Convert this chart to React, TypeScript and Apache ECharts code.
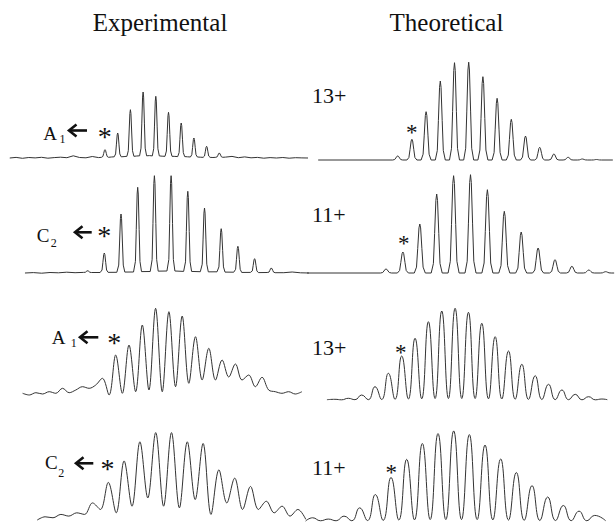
import React, { useEffect, useRef } from "react";
import * as echarts from "echarts";

// ---------- DATA ----------
const columnTitles = ["Experimental", "Theoretical"];
const chargeLabels = ["13+", "11+", "13+", "11+"];
const ionLabels = [
  { ion: "A", sub: "1" },
  { ion: "C", sub: "2" },
  { ion: "A", sub: "1" },
  { ion: "C", sub: "2" },
];

// Row 1 – experimental A1 13+ (narrow isotope peaks, first at isotope index 0)
const expA1Peaks = [8.3, 25, 48.3, 66, 61.7, 45.7, 35, 20, 11.7, 5];
const expA1Noise = [
  0, 0.6, -0.3, 0.5, 0.1, 0.7, -0.2, 0.4, 0.8, 0.3, 2.2, 0.5, 0.2, 1.5, 0.4, 0,
  1.0, 0, 1.4, 0, 2.0, 0, 2.4, 0, 1.8, 0, 1.6, 0, 1.2, 0, 0.8, 0, 0.5, 0, 0.9,
  1.6, 0.3, 1.1, 0.2, 0.6, -0.2, 0.4, 0, 0.5, -0.2, 0.3, 0.1, 0,
];
// Row 1 – theoretical 13+
const theoA1Peaks = [4, 20.7, 48.3, 79, 97.3, 97.8, 83.3, 61.7, 40.7, 24, 12.7, 6, 2.7, 1, 0.5];
// Row 2 – experimental C2 11+ (first peak at index -1)
const expC2Peaks = [2.3, 20, 59, 85.7, 97.3, 97.3, 81.7, 65, 44.3, 26.7, 14.3, 5];
const expC2Noise = [
  0, 0.4, -0.2, 0.5, 0.2, 0.8, 0.3, 0.6, 0.4, 0.5, 0.8, 0.7, 1.2, 1.0, 1.8, 1.5,
  2.2, 2.0, 2.0, 1.6, 1.5, 1.3, 1.0, 1.2, 0.6, 0.8, 0.3, 0.6, 0.2, 0.5, 0.1, 0.3,
  1.0, 0.2, 0,
];
// Row 2 – theoretical 11+
const theoC2Peaks = [4, 21, 49, 79, 97.3, 98.3, 83.3, 61.7, 41, 25, 13.3, 6.7, 3, 1.3];
// Row 3 – experimental A1 13+, low resolution (profile every half isotope step from -7)
const expA1Broad = [
  1.7, 0, 2.3, 1, 3.3, 1.7, 6.7, 2.3, 5, 8.3, 6.7, 10, 16.7, 0, 40, 1.7, 50, 3.3,
  70, 5, 86.7, 3.3, 83.3, 8.3, 79, 11.7, 58.3, 15, 46.7, 15, 35, 18, 31, 15, 20,
  8.3, 17.7, 5, 3.3, 1.7, 3.3, 1, 3.3,
];
// Row 3 – theoretical 13+, low resolution (apex heights from index -5, valleys between)
const theoA1BroadPeaks = [
  0.7, 1.7, 5, 13.3, 26.7, 44, 61.7, 78.3, 89, 91.7, 87.7, 76.7, 63.3, 49, 35.7,
  24.3, 15.7, 10, 5.7, 3.3, 1,
];
const theoA1BroadValleys = [
  0.2, 0.3, 0.3, 0.5, 0.7, 1, 1.2, 1.5, 1.5, 1.5, 1.5, 1.2, 1, 0.8, 0.6, 0.5, 0.4,
  0.3, 0.2, 0.2,
];
// Row 4 – experimental C2 11+, low resolution (profile every half step from -4.5)
const expC2Broad = [
  1, 4.3, 3.3, 6.7, 5, 8.3, 6.7, 18.3, 11.7, 39, 8.3, 60.7, 15, 80, 23.3, 89.3,
  15, 89.3, 13.3, 80, 21.7, 78.3, 6.7, 51.7, 18.3, 43.3, 11.7, 35, 11.7, 20, 8.3,
  15, 5, 11.7, 1.7,
];
// Row 4 – theoretical 11+, low resolution (apex heights from index -5)
const theoC2BroadPeaks = [
  3.3, 2, 5, 13.3, 26.7, 44, 62.3, 78.3, 88.3, 91, 87.3, 76.7, 62.7, 49, 35.7,
  24.3, 15.7, 10, 5.7,
];
const theoC2BroadValleys = [
  0.3, 0.3, 0.3, 0.5, 0.7, 1, 1.2, 1.5, 1.5, 1.5, 1.5, 1.2, 1, 0.8, 0.6, 0.5, 0.4,
  0.3,
];

// ---------- LAYOUT ----------
// x0: pixel of isotope index 0, s: pixels per isotope step, B: baseline pixel
const panels = [
  { x0: 105, s: 12.7, kmin: -7.48, kmax: 15.9, B: 158 },
  { x0: 397.7, s: 14.2, kmin: -5.6, kmax: 15.15, B: 160 },
  { x0: 104.3, s: 16.7, kmin: -4.75, kmax: 12.2, B: 273 },
  { x0: 386, s: 16.9, kmin: -4.67, kmax: 13.5, B: 273 },
  { x0: 115.7, s: 13.3, kmin: -7, kmax: 14, B: 395 },
  { x0: 401.7, s: 13.35, kmin: -5.6, kmax: 15.4, B: 400 },
  { x0: 108.3, s: 15.8, kmin: -4.6, kmax: 12.55, B: 522 },
  { x0: 391, s: 15.67, kmin: -5.45, kmax: 13.7, B: 522 },
];

const PEAK_SHAPE: [number, number][] = [
  [-1, 0], [-0.6, 0.12], [-0.38, 0.5], [-0.15, 0.92], [0, 1],
  [0.15, 0.92], [0.38, 0.5], [0.6, 0.12], [1, 0],
];

type Pt = [number, number];

function narrowProfile(
  peaks: number[], firstK: number, kmin: number, kmax: number, halfBase: number,
  noise?: number[], noiseStart?: number
): Pt[] {
  const peakKs = peaks.map((_, i) => firstK + i);
  const base: Pt[] = [];
  if (noise && noiseStart !== undefined) {
    noise.forEach((v, i) => {
      const k = noiseStart + 0.5 * i;
      if (!peakKs.some((p) => Math.abs(p - k) < halfBase + 0.02)) base.push([k, v]);
    });
  } else {
    base.push([kmin, 0], [kmax, 0]);
  }
  const pts: Pt[] = [...base];
  peaks.forEach((h, i) => {
    const k = firstK + i;
    let lb = 0;
    if (noise) {
      const left = base.filter((p) => p[0] < k).pop();
      const right = base.find((p) => p[0] > k);
      lb = ((left ? left[1] : 0) + (right ? right[1] : 0)) / 2;
    }
    PEAK_SHAPE.forEach(([dx, f]) => pts.push([k + dx * halfBase, lb + f * (h - lb)]));
  });
  pts.sort((a, b) => a[0] - b[0]);
  return pts;
}

function uniformProfile(values: number[], start: number): Pt[] {
  return values.map((v, i) => [start + 0.5 * i, v] as Pt);
}

function alternating(
  peaks: number[], valleys: number[], firstK: number, kmin: number, kmax: number,
  startV: number, endV: number
): Pt[] {
  const pts: Pt[] = [[kmin, startV]];
  peaks.forEach((h, i) => {
    pts.push([firstK + i, h]);
    if (i < valleys.length) pts.push([firstK + i + 0.5, valleys[i]]);
  });
  pts.push([kmax, endV]);
  return pts;
}

const FONT = "Liberation Serif";
const LINE = "#333";

export default function App() {
  const ref = useRef<HTMLDivElement>(null);
  useEffect(() => {
    if (!ref.current) return;
    const chart = echarts.init(ref.current, undefined, { renderer: "svg" });

    const profiles: { data: Pt[]; smooth: number | boolean }[] = [
      { data: narrowProfile(expA1Peaks, 0, panels[0].kmin, panels[0].kmax, 3.5 / 12.7, expA1Noise, -7.5), smooth: false },
      { data: narrowProfile(theoA1Peaks, 0, panels[1].kmin, panels[1].kmax, 5 / 14.2), smooth: false },
      { data: narrowProfile(expC2Peaks, -1, panels[2].kmin, panels[2].kmax, 3.8 / 16.7, expC2Noise, -4.75), smooth: false },
      { data: narrowProfile(theoC2Peaks, 0, panels[3].kmin, panels[3].kmax, 5.5 / 16.9), smooth: false },
      { data: uniformProfile(expA1Broad, -7), smooth: 0.35 },
      { data: alternating(theoA1BroadPeaks, theoA1BroadValleys, -5, panels[5].kmin, panels[5].kmax, 0.3, 0.3), smooth: 0.5 },
      { data: uniformProfile(expC2Broad, -4.5), smooth: 0.35 },
      { data: alternating(theoC2BroadPeaks, theoC2BroadValleys, -5, panels[7].kmin, panels[7].kmax, 0, 0.3), smooth: 0.5 },
    ];

    const grid = panels.map((p) => ({
      left: p.x0 + p.s * p.kmin,
      width: p.s * (p.kmax - p.kmin),
      top: p.B - 100,
      height: 105,
      containLabel: false,
    }));
    const xAxis = panels.map((p, i) => ({
      type: "value", gridIndex: i, min: p.kmin, max: p.kmax, show: false,
    }));
    const yAxis = panels.map((_, i) => ({
      type: "value", gridIndex: i, min: -5, max: 100, show: false,
    }));
    const series = profiles.map((pr, i) => ({
      type: "line",
      xAxisIndex: i,
      yAxisIndex: i,
      data: pr.data,
      smooth: pr.smooth,
      symbol: "none",
      showSymbol: false,
      silent: true,
      clip: false,
      lineStyle: { color: LINE, width: 1 },
    }));

    const text = (t: string, x: number, y: number, size: number, align = "left") => ({
      type: "text",
      x,
      y,
      silent: true,
      style: {
        text: t,
        fontSize: size,
        fontFamily: FONT,
        fill: "#111",
        align,
        verticalAlign: "middle",
        textAlign: align,
        textVerticalAlign: "middle",
      },
    });
    const arrow = (x1: number, x2: number, y: number) => [
      { type: "line", silent: true, shape: { x1: x1 + 1, y1: y, x2, y2: y }, style: { stroke: "#111", lineWidth: 2.6 } },
      {
        type: "polyline", silent: true,
        shape: { points: [[x1 + 7.5, y - 6], [x1, y], [x1 + 7.5, y + 6]] },
        style: { stroke: "#111", lineWidth: 2.6, fill: null },
      },
    ];

    const ionPos = [
      { ax: 43.3, ay: 133.5, sx: 59.5, sy: 138.5, ar: [69, 87, 130.5], st: [104.7, 136.5] },
      { ax: 36.7, ay: 235.3, sx: 50.7, sy: 242.5, ar: [75, 91.7, 232.3], st: [104.2, 235.7] },
      { ax: 51.7, ay: 337.8, sx: 70.7, sy: 342.7, ar: [80, 98.3, 337.3], st: [114.2, 342] },
      { ax: 45, ay: 462.6, sx: 58.3, sy: 473, ar: [76, 93.3, 463.3], st: [107.5, 468.3] },
    ];
    const chargePos = [
      [312, 95.5],
      [312, 214.3],
      [312, 347.6],
      [312, 467.6],
    ];
    const theoStar = [
      [411.7, 132],
      [403.7, 243],
      [400.8, 352],
      [391.2, 472],
    ];

    const graphic: any[] = [
      text(columnTitles[0], 160, 22, 25, "center"),
      text(columnTitles[1], 446.5, 22, 25, "center"),
    ];
    ionLabels.forEach((l, i) => {
      const p = ionPos[i];
      graphic.push(text(l.ion, p.ax, p.ay, 19));
      graphic.push(text(l.sub, p.sx, p.sy, 12));
      graphic.push(...arrow(p.ar[0], p.ar[1], p.ar[2]));
      graphic.push(text("*", p.st[0], p.st[1], 28, "center"));
      graphic.push(text(chargeLabels[i], chargePos[i][0], chargePos[i][1], 22));
      graphic.push(text("*", theoStar[i][0], theoStar[i][1], 23, "center"));
    });

    chart.setOption({
      animation: false,
      backgroundColor: "#fff",
      grid,
      xAxis,
      yAxis,
      series,
      graphic,
    });
    return () => chart.dispose();
  }, []);

  return (
    <div
      ref={ref}
      style={{ position: "absolute", left: 0, top: 0, width: 615, height: 526 }}
    />
  );
}
